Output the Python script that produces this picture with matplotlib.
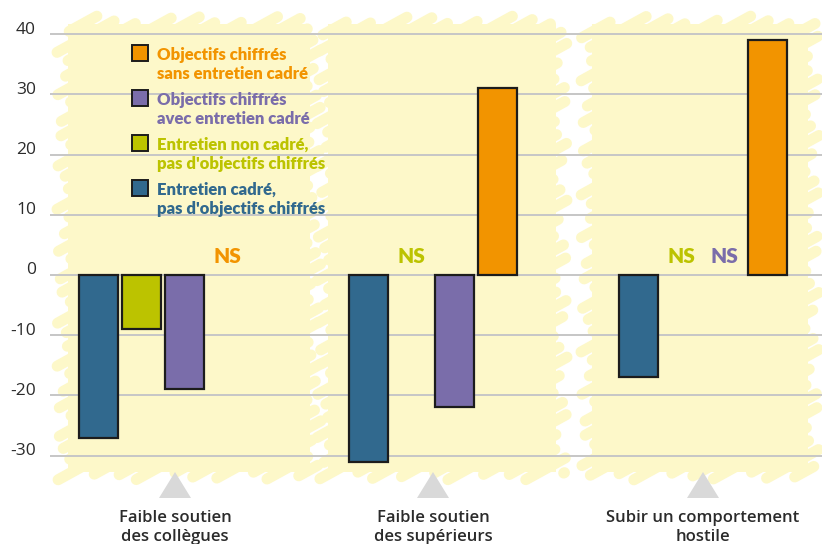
import numpy as np
import matplotlib
matplotlib.use("Agg")
import matplotlib.pyplot as plt
from matplotlib.patches import Polygon, Rectangle
from matplotlib.transforms import Affine2D

# ---------------- data ----------------
groups = ["Faible soutien\ndes collègues",
          "Faible soutien\ndes supérieurs",
          "Subir un comportement\nhostile"]
series_names = ["Entretien cadré,\npas d'objectifs chiffrés",
                "Entretien non cadré,\npas d'objectifs chiffrés",
                "Objectifs chiffrés\navec entretien cadré",
                "Objectifs chiffrés\nsans entretien cadré"]
cadre_sans_obj = [-27, -31, -17]
non_cadre_sans_obj = [-9, np.nan, np.nan]
obj_avec_cadre = [-19, -22, np.nan]
obj_sans_cadre = [np.nan, 31, 39]
yticks = [40, 30, 20, 10, 0, -10, -20, -30]
ns_label = "NS"

colors = ["#31698e", "#bcc300", "#7a6daa", "#f29400"]
values = [cadre_sans_obj, non_cadre_sans_obj, obj_avec_cadre, obj_sans_cadre]

FONT = ["Open Sans", "DejaVu Sans"]
BOLDFONT = ["Lato", "DejaVu Sans"]
plt.rcParams['font.family'] = FONT

W, H = 822, 544
fig = plt.figure(figsize=(W / 100, H / 100), dpi=100)
ax = fig.add_axes([0, 0, 1, 1])
ax.axis("off")

# pixel layout -> data mapping
gx0, gpitch = 163.0, 270.0          # pixel of group 0 centre, group pitch
y0px, ypx10 = 275.0, 60.2           # pixel of value 0, pixels per 10 units
ax.set_xlim(-gx0 / gpitch, (W - gx0) / gpitch)
ax.set_ylim(-(H - y0px) / ypx10 * 10, y0px / ypx10 * 10)

pix = Affine2D().scale(1, -1).translate(0, H)  # pixel (top-left origin) -> display

# ---------------- scribbled yellow backgrounds ----------------
yellow = "#fdf8c9"
regions = [(58, 320), (318, 566), (582, 818)]
ytop, ybot = 14, 482
s = 0.55
lw_px = 11
for ri, (x0, x1) in enumerate(regions):
    ax.add_patch(Rectangle((x0 + 10, ytop + 10), (x1 - x0) - 20, (ybot - ytop) - 20,
                           transform=pix, facecolor=yellow, edgecolor="none", zorder=0))
    xi0, xi1, yi0, yi1 = x0 + 6, x1 - 6, ytop + 6, ybot - 6
    db = 12.5 * np.sqrt(1 + s * s)
    bvals = np.arange(yi0, yi1 + s * (xi1 - xi0), db)
    for k, b in enumerate(bvals):
        pxb = xi0 + (b - yi1) / s
        pxt = xi0 + (b - yi0) / s
        a = max(xi0, pxb)
        e = min(xi1, pxt)
        if e <= a:
            continue
        ja = 7 * np.sin(2.3 * k + ri)
        je = 7 * np.sin(1.7 * k + 2 * ri)
        a2, e2 = a + ja, e + je
        ya = b - s * (a2 - xi0)
        ye = b - s * (e2 - xi0)
        ax.plot([a2, e2], [ya, ye], transform=pix, color=yellow,
                lw=lw_px * 0.72, solid_capstyle="round", zorder=0.5)

# ---------------- grid & y labels ----------------
xg0 = (50 - gx0) / gpitch
ax.hlines(yticks, xg0, ax.get_xlim()[1], colors="#c6c6c6", lw=1.4, zorder=1)
for t in yticks:
    ax.text((36 - gx0) / gpitch, t + 0.75, f"{t}", ha="right", va="center",
            fontsize=12.5, color="#2b2b2b", zorder=4)

# ---------------- bars ----------------
bpitch = 43.0 / gpitch
bwidth = 39.0 / gpitch
xg = np.arange(len(groups))
for si, (vals, col) in enumerate(zip(values, colors)):
    vals = np.asarray(vals, dtype=float)
    xs = xg + (si - 1.5) * bpitch
    ok = ~np.isnan(vals)
    ax.bar(xs[ok], vals[ok], width=bwidth, color=col, edgecolor="#1c1c1c",
           linewidth=1.6, zorder=3)
    for x, v in zip(xs[~ok], vals[~ok]):
        ax.text(x, 3.0, ns_label, ha="center", va="center", fontsize=15,
                fontweight="heavy", family=BOLDFONT, color=col, zorder=4)

# ---------------- triangles & category labels ----------------
label_shift = [12 / gpitch, 0, 0]
for gi, name in enumerate(groups):
    cx = gi + label_shift[gi]
    ya = (y0px - 472) / ypx10 * 10
    yb = (y0px - 498) / ypx10 * 10
    hw = 16 / gpitch
    ax.add_patch(Polygon([[cx - hw, yb], [cx + hw, yb], [cx, ya]], closed=True,
                         facecolor="#d9d9d9", edgecolor="none", zorder=2))
    for li, line in enumerate(name.split("\n")):
        ax.text(cx, (y0px - (522 + 19 * li)) / ypx10 * 10, line, ha="center",
                va="baseline", fontsize=12, fontweight="semibold", color="#2b2b2b",
                zorder=4)

# ---------------- legend ----------------
leg_order = [3, 2, 1, 0]
for k, si in enumerate(leg_order):
    top = 45 + 45 * k
    ax.add_patch(Rectangle((132, top), 16, 16, transform=pix, facecolor=colors[si],
                           edgecolor="#1c1c1c", lw=1.4, zorder=5))
    for li, line in enumerate(series_names[si].split("\n")):
        ax.text(157, top + 15 + 19 * li, line, transform=pix, ha="left",
                va="baseline", fontsize=12, fontweight="heavy", family=BOLDFONT,
                color=colors[si], zorder=5)

fig.savefig("out.png", dpi=100)
